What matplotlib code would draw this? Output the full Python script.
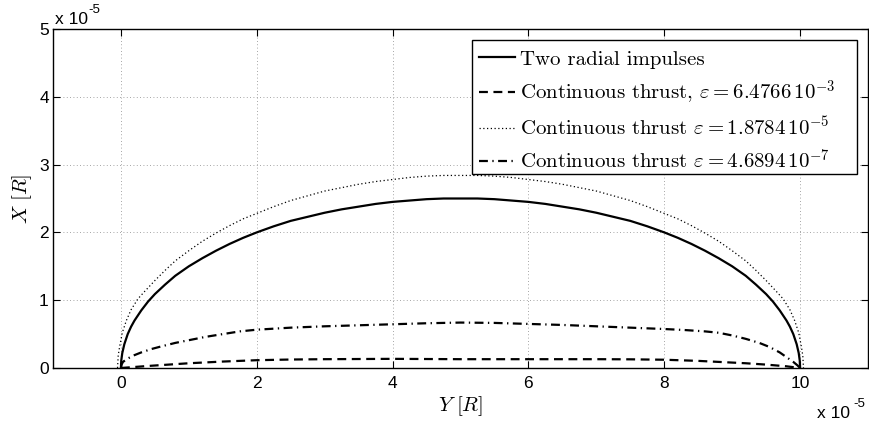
import matplotlib
matplotlib.use("Agg")
import matplotlib.pyplot as plt
from matplotlib.font_manager import FontProperties
from matplotlib.patches import Rectangle

plt.rcParams['mathtext.fontset'] = 'cm'
plt.rcParams['font.family'] = ['Liberation Sans', 'DejaVu Sans']

# Two radial impulses (solid)
x_imp = [0, 0.005, 0.02, 0.05, 0.1, 0.15, 0.2, 0.3, 0.4, 0.5, 0.65, 0.8, 1.0, 1.2, 1.4, 1.6, 1.8,
         2.0, 2.25, 2.5, 2.75, 3.0, 3.25, 3.5, 3.75, 4.0, 4.25, 4.5, 4.75, 5.0,
         5.25, 5.5, 5.75, 6.0, 6.25, 6.5, 6.75, 7.0, 7.25, 7.5, 7.75, 8.0,
         8.2, 8.4, 8.6, 8.8, 9.0, 9.2, 9.35, 9.5, 9.6, 9.7, 9.8, 9.85, 9.9, 9.95, 9.98, 9.995, 10]
y_imp = [0, 0.11, 0.22, 0.35, 0.50, 0.61, 0.70, 0.85, 0.98, 1.09, 1.23, 1.36, 1.50, 1.62, 1.73, 1.83, 1.92,
         2.00, 2.09, 2.17, 2.23, 2.29, 2.34, 2.38, 2.42, 2.45, 2.47, 2.49, 2.50, 2.50,
         2.50, 2.49, 2.47, 2.45, 2.42, 2.38, 2.34, 2.29, 2.23, 2.17, 2.09, 2.00,
         1.92, 1.83, 1.73, 1.62, 1.50, 1.36, 1.23, 1.09, 0.98, 0.85, 0.70, 0.61, 0.50, 0.35, 0.22, 0.11, 0]

# Continuous thrust eps = 6.4766e-3 (dashed)
x_c1 = [0, 0.2, 0.4, 0.7, 1, 1.5, 2, 2.5, 3, 4, 5, 6, 7, 7.5, 8, 8.5, 8.8, 9.2, 9.5, 9.8, 10]
y_c1 = [0, 0.015, 0.03, 0.05, 0.07, 0.095, 0.115, 0.125, 0.13, 0.135, 0.13, 0.13, 0.13, 0.128,
        0.122, 0.105, 0.09, 0.07, 0.05, 0.025, 0]

# Continuous thrust eps = 1.8784e-5 (dotted)
x_c2 = [-0.05, -0.04, -0.02, 0.02, 0.08, 0.15, 0.25, 0.35, 0.5, 0.65, 0.8, 1.0, 1.2, 1.4, 1.6, 1.8,
        2.0, 2.25, 2.5, 2.75, 3.0, 3.25, 3.5, 3.75, 4.0, 4.25, 4.5, 4.75, 5.0,
        5.25, 5.5, 5.75, 6.0, 6.25, 6.5, 6.75, 7.0, 7.25, 7.5, 7.75, 8.0,
        8.2, 8.4, 8.6, 8.8, 9.0, 9.2, 9.35, 9.5, 9.65, 9.75, 9.85, 9.92, 9.98, 10.02, 10.04, 10.05]
y_c2 = [0, 0.18, 0.31, 0.52, 0.70, 0.86, 1.02, 1.13, 1.29, 1.44, 1.58, 1.73, 1.87, 1.99, 2.10, 2.20,
        2.28, 2.38, 2.47, 2.54, 2.61, 2.66, 2.71, 2.75, 2.78, 2.81, 2.83, 2.84, 2.84,
        2.84, 2.83, 2.81, 2.78, 2.75, 2.71, 2.66, 2.61, 2.54, 2.47, 2.38, 2.28,
        2.20, 2.10, 1.99, 1.87, 1.73, 1.58, 1.44, 1.29, 1.13, 1.02, 0.86, 0.70, 0.52, 0.31, 0.18, 0]

# Continuous thrust eps = 4.6894e-7 (dash-dot)
x_c3 = [0, 0.01, 0.03, 0.1, 0.2, 0.3, 0.45, 0.6, 0.8, 1.0, 1.25, 1.5, 1.75, 2, 2.5, 3, 3.5, 4, 4.5,
        5, 5.5, 6, 6.5, 7, 7.5, 8, 8.3, 8.6, 8.8, 9.0, 9.2, 9.4, 9.55, 9.7, 9.8, 9.9, 9.96, 10]
y_c3 = [0, 0.05, 0.09, 0.14, 0.19, 0.23, 0.28, 0.32, 0.37, 0.41, 0.46, 0.50, 0.54, 0.565, 0.595,
        0.615, 0.63, 0.645, 0.66, 0.67, 0.665, 0.65, 0.635, 0.615, 0.595, 0.575, 0.56, 0.54, 0.52,
        0.48, 0.43, 0.37, 0.31, 0.23, 0.16, 0.09, 0.04, 0]

labels = [r"Two radial impulses",
          r"Continuous thrust, $\varepsilon = 6.4766\,10^{-3}$",
          r"Continuous thrust $\varepsilon = 1.8784\,10^{-5}$",
          r"Continuous thrust $\varepsilon = 4.6894\,10^{-7}$"]
xticks = [0, 2, 4, 6, 8, 10]
yticks = [0, 1, 2, 3, 4, 5]

W, H = 870, 428
fig = plt.figure(figsize=(W / 100, H / 100), dpi=100)
L, R, T, B = 53, 868, 29, 368
ax = fig.add_axes([L / W, 1 - B / H, (R - L) / W, (B - T) / H])

ax.plot(x_imp, y_imp, color='black', lw=1.6, ls='-', label=labels[0])
ax.plot(x_c1, y_c1, color='black', lw=1.6, ls=(0, (4, 2.5)), label=labels[1])
ax.plot(x_c2, y_c2, color='black', lw=0.9, ls=(0, (1, 2)), label=labels[2])
ax.plot(x_c3, y_c3, color='black', lw=1.6, ls=(0, (4, 2, 0.6, 2)), label=labels[3])

ax.set_xlim(-1, 11)
ax.set_ylim(0, 5)
ax.set_xticks(xticks)
ax.set_yticks(yticks)
ax.set_xticklabels([str(t) for t in xticks])
ax.set_yticklabels([str(t) for t in yticks])
ax.tick_params(direction='in', top=True, right=True, length=5, width=0.8,
               labelsize=12.5)
ax.tick_params(axis='x', pad=6)
ax.tick_params(axis='y', pad=3)
ax.grid(True, color='#888888', lw=0.6, ls=(0, (1, 3)))
for s in ax.spines.values():
    s.set_linewidth(1.0)

ax.set_xlabel(r"$Y\ [R]$", fontsize=15, labelpad=2)
ax.set_ylabel(r"$X\ [R]$", fontsize=15, labelpad=4)

# legend frame (MATLAB style, with extra right padding)
def ax_x(p):
    return (p - L) / (R - L)

def ax_y(p):
    return (B - p) / (B - T)

box = Rectangle((ax_x(472), ax_y(174)), ax_x(857) - ax_x(472), ax_y(40) - ax_y(174),
                transform=ax.transAxes, facecolor='white', edgecolor='black',
                lw=1.0, zorder=4.5)
ax.add_patch(box)

leg = ax.legend(loc='upper left', bbox_to_anchor=(ax_x(479), ax_y(50)),
                borderaxespad=0, frameon=False,
                prop=FontProperties(family='cmr10', size=15), handlelength=1.75,
                handletextpad=0.2, labelspacing=0.46, borderpad=0)
leg.set_zorder(5)

# MATLAB-style exponent labels
def px(x, y):
    return x / W, 1 - y / H

fig.text(*px(55, 24), "x 10", fontsize=12.5, ha='left', va='baseline')
fig.text(*px(88, 13), "-5", fontsize=9.5, ha='left', va='baseline')
fig.text(*px(817, 418), "x 10", fontsize=12.5, ha='left', va='baseline')
fig.text(*px(853, 407), "-5", fontsize=9.5, ha='left', va='baseline')

fig.savefig("out.png", dpi=100)
